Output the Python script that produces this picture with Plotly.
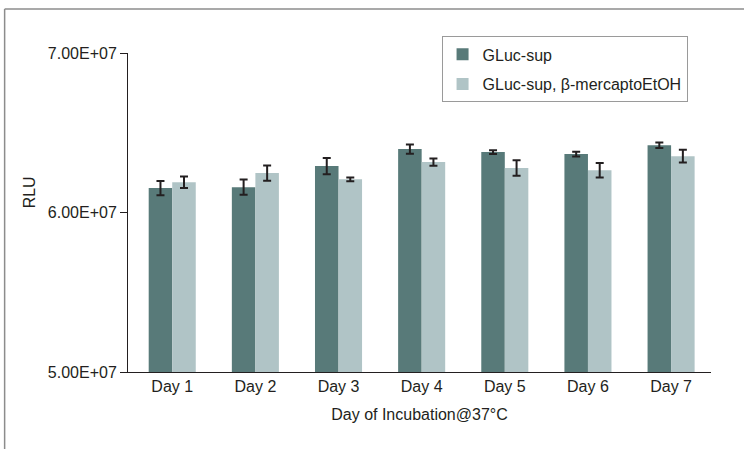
import plotly.graph_objects as go

days = ["Day 1", "Day 2", "Day 3", "Day 4", "Day 5", "Day 6", "Day 7"]
gluc_sup = [6.153e7, 6.159e7, 6.291e7, 6.398e7, 6.379e7, 6.366e7, 6.422e7]
gluc_sup_err = [0.045e7, 0.048e7, 0.051e7, 0.029e7, 0.012e7, 0.015e7, 0.017e7]
gluc_bme = [6.190e7, 6.247e7, 6.208e7, 6.316e7, 6.279e7, 6.265e7, 6.353e7]
gluc_bme_err = [0.036e7, 0.048e7, 0.012e7, 0.023e7, 0.048e7, 0.046e7, 0.040e7]
series_names = ["GLuc-sup", "GLuc-sup, β-mercaptoEtOH"]
y_tickvals = [5e7, 6e7, 7e7]
y_ticktext = ["5.00E+07", "6.00E+07", "7.00E+07"]

W, H = 744, 449
L, R, T, B = 128.3, 711.0, 53.3, 372.3
pw, ph = R - L, B - T

def px(x):
    return (x - L) / pw

def py(y):
    return (B - y) / ph

FONT = "Liberation Sans, Arial, sans-serif"
FS = 16
TXT = "#231f20"
err_style = dict(type="data", thickness=2, width=4, color=TXT)

fig = go.Figure()
fig.add_trace(go.Bar(
    x=days, y=gluc_sup, name=series_names[0], marker_color="#587a79",
    marker_line_width=0, legendgroup="a",
    error_y=dict(array=gluc_sup_err, **err_style),
))
fig.add_trace(go.Bar(
    x=days, y=gluc_bme, name=series_names[1], marker_color="#b0c4c6",
    marker_line_width=0, legendgroup="b",
    error_y=dict(array=gluc_bme_err, **err_style),
))

fig.update_layout(
    width=W, height=H,
    margin=dict(l=L, r=W - R, t=T, b=H - B, autoexpand=False),
    paper_bgcolor="white", plot_bgcolor="white",
    font=dict(family=FONT, size=FS, color=TXT),
    barmode="group", bargap=0.434, bargroupgap=0,
    showlegend=True,
    legend=dict(
        x=px(441.7), y=py(36.7), xanchor="left", yanchor="top",
        bordercolor="#9a9a9a", borderwidth=1, bgcolor="white",
        font=dict(size=FS, family=FONT, color=TXT),
        tracegroupgap=6,
    ),
    xaxis=dict(
        type="category", range=[-0.532, 6.48],
        showline=True, linecolor=TXT, linewidth=1,
        ticks="", showgrid=False, zeroline=False,
        tickfont=dict(size=FS, family=FONT, color=TXT),
        title=dict(text="Day of Incubation@37°C", standoff=14,
                   font=dict(size=FS, family=FONT, color=TXT)),
    ),
    yaxis=dict(
        range=[5e7, 7e7], tickvals=y_tickvals, ticktext=y_ticktext,
        showline=True, linecolor=TXT, linewidth=1,
        ticks="outside", ticklen=7, tickwidth=1, tickcolor=TXT,
        showgrid=False, zeroline=False,
        tickfont=dict(size=FS, family=FONT, color=TXT),
    ),
    shapes=[
        dict(type="line", xref="paper", yref="paper",
             x0=px(5), x1=px(760), y0=py(9.3), y1=py(9.3),
             line=dict(color="#8c8c8c", width=1.5)),
        dict(type="line", xref="paper", yref="paper",
             x0=px(5), x1=px(5), y0=py(9.3), y1=py(460),
             line=dict(color="#8c8c8c", width=1.5)),
    ],
    annotations=[
        dict(text="RLU", xref="paper", yref="paper", x=px(30), y=py(193),
             showarrow=False, textangle=-90, xanchor="center", yanchor="middle",
             font=dict(size=FS, family=FONT, color=TXT)),
    ],
)

fig.write_html("out.html")
